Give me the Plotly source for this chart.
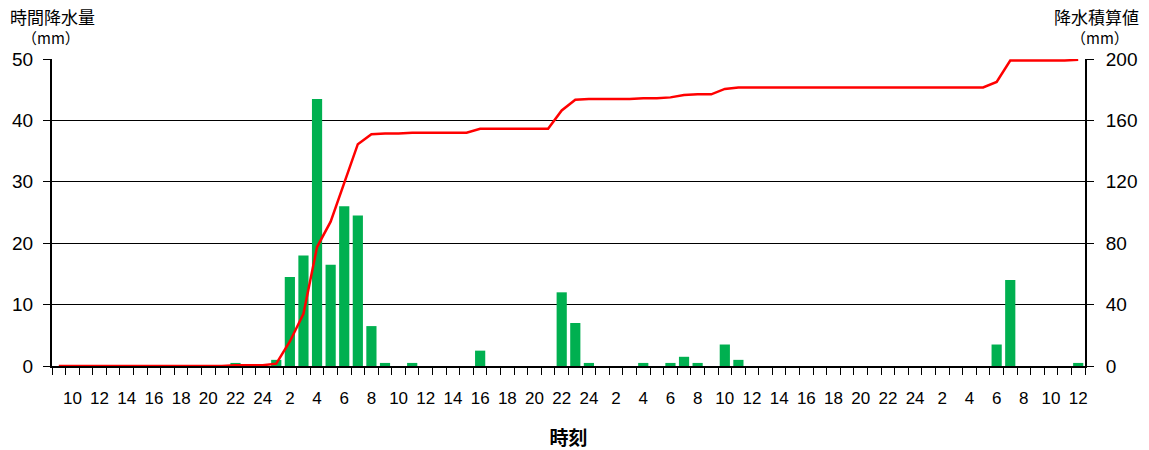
import plotly.graph_objects as go

# hour-of-day labels for each hourly category (day1 09h .. day4 12h)
hours = [9, 10, 11, 12, 13, 14, 15, 16, 17, 18, 19, 20, 21, 22, 23, 24,
         1, 2, 3, 4, 5, 6, 7, 8, 9, 10, 11, 12, 13, 14, 15, 16, 17, 18, 19, 20, 21, 22, 23, 24,
         1, 2, 3, 4, 5, 6, 7, 8, 9, 10, 11, 12, 13, 14, 15, 16, 17, 18, 19, 20, 21, 22, 23, 24,
         1, 2, 3, 4, 5, 6, 7, 8, 9, 10, 11, 12]

# hourly precipitation (mm)
rain = [0, 0, 0, 0, 0, 0, 0, 0, 0, 0, 0, 0, 0, 0.5, 0, 0,
        1.0, 14.5, 18.0, 43.5, 16.5, 26.0, 24.5, 6.5, 0.5, 0, 0.5, 0, 0, 0, 0, 2.5, 0, 0, 0, 0, 0, 12.0, 7.0, 0.5,
        0, 0, 0, 0.5, 0, 0.5, 1.5, 0.5, 0, 3.5, 1.0, 0, 0, 0, 0, 0, 0, 0, 0, 0, 0, 0, 0, 0,
        0, 0, 0, 0, 0, 3.5, 14.0, 0, 0, 0, 0, 0.5]

# accumulated precipitation (mm)
cumulative = [0, 0, 0, 0, 0, 0, 0, 0, 0, 0, 0, 0, 0, 0.5, 0.5, 0.5,
              1.5, 16.0, 34.0, 77.5, 94.0, 120.0, 144.5, 151.0, 151.5, 151.5, 152.0, 152.0, 152.0, 152.0, 152.0,
              154.5, 154.5, 154.5, 154.5, 154.5, 154.5, 166.5, 173.5, 174.0,
              174.0, 174.0, 174.0, 174.5, 174.5, 175.0, 176.5, 177.0, 177.0, 180.5, 181.5,
              181.5, 181.5, 181.5, 181.5, 181.5, 181.5, 181.5, 181.5, 181.5, 181.5, 181.5, 181.5, 181.5,
              181.5, 181.5, 181.5, 181.5, 181.5, 185.0, 199.0, 199.0, 199.0, 199.0, 199.0, 199.5]

# tick labels shown under every other hour
tick_labels = ["10", "12", "14", "16", "18", "20", "22", "24",
               "2", "4", "6", "8", "10", "12", "14", "16", "18", "20", "22", "24",
               "2", "4", "6", "8", "10", "12", "14", "16", "18", "20", "22", "24",
               "2", "4", "6", "8", "10", "12"]

x = list(range(len(hours)))
tick_positions = [i for i in x if hours[i] % 2 == 0]

FONT = "Liberation Sans, Arial, Noto Sans CJK JP, sans-serif"
JP = "Noto Sans CJK JP, sans-serif"

fig = go.Figure()
fig.add_trace(go.Bar(x=x, y=rain, marker=dict(color="#00B050", line=dict(width=0)),
                     yaxis="y", showlegend=False, hoverinfo="skip"))
fig.add_trace(go.Scatter(x=x, y=cumulative, mode="lines", line=dict(color="#FF0000", width=2.5),
                         yaxis="y2", showlegend=False, hoverinfo="skip"))

fig.update_layout(
    width=1149, height=450,
    margin=dict(l=52, r=64, t=59, b=84),
    paper_bgcolor="white", plot_bgcolor="white",
    bargap=0.25,
    font=dict(family=FONT, color="black"),
    xaxis=dict(
        range=[-0.5, len(x) - 0.5], automargin=False,
        tickmode="array", tickvals=tick_positions, ticktext=tick_labels,
        ticks="outside", ticklen=16, tickcolor="rgba(0,0,0,0)",
        tickfont=dict(size=17, family=FONT),
        showline=True, linecolor="black", linewidth=2,
        showgrid=False, zeroline=False,
        minor=dict(ticks="outside", tick0=-0.5, dtick=1, ticklen=7,
                   tickcolor="black", tickwidth=1, showgrid=False),
        title=dict(text="<b>時刻</b>", font=dict(size=19, family=JP), standoff=24),
    ),
    yaxis=dict(
        range=[0, 50], tickmode="linear", tick0=0, dtick=10, automargin=False,
        ticks="outside", ticklen=7, tickcolor="black", tickwidth=1,
        tickfont=dict(size=19, family=FONT), ticklabelstandoff=6,
        showline=True, linecolor="black", linewidth=2,
        showgrid=True, gridcolor="black", gridwidth=1, zeroline=False,
    ),
    yaxis2=dict(
        range=[0, 200], tickmode="linear", tick0=0, dtick=40, automargin=False,
        overlaying="y", side="right",
        ticks="outside", ticklen=7, tickcolor="black", tickwidth=1,
        tickfont=dict(size=19, family=FONT), ticklabelstandoff=8,
        showline=True, linecolor="black", linewidth=2,
        showgrid=False, zeroline=False,
    ),
)

W = 1033.0
H = 307.0
def px(v):
    return (v - 52) / W
def py(v):
    return (366 - v) / H

annos = [
    ("時間降水量", 8, 17, "left", 17),
    ("（mm）", 20, 38, "left", 15),
    ("降水積算値", 1141, 17, "right", 17),
    ("（mm）", 1131, 38, "right", 15),
]
for text, ax, ay, anchor, size in annos:
    fig.add_annotation(text=text, xref="paper", yref="paper", x=px(ax), y=py(ay),
                       xanchor=anchor, yanchor="middle", showarrow=False,
                       font=dict(family=JP, size=size, color="black"))

fig.write_html("out.html", config={"displayModeBar": False},
               post_script="document.body.style.margin='0';document.body.style.padding='0';")
